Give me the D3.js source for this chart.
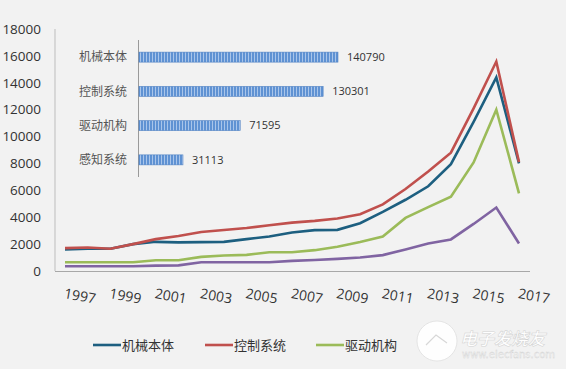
<!DOCTYPE html>
<html>
<head>
<meta charset="UTF-8">
<title>机器人专利趋势</title>
<script src="https://d3js.org/d3.v7.min.js"></script>
<style>
  html, body { margin: 0; padding: 0; background: #f2f2f2; }
  svg { display: block; }
  .tick-y { font-family: "Open Sans", "Noto Sans", sans-serif; font-size: 13.5px; fill: #333; }
  .tick-x { font-family: "Open Sans", "Noto Sans", sans-serif; font-size: 14px; fill: #333; }
  .cjk { font-family: "Noto Sans CJK SC", sans-serif; fill: #444; }
</style>
</head>
<body>
<svg id="chart" width="566" height="369"></svg>
<script>
// 年份
const years = d3.range(1997, 2018);
const yearLabels = [1997, 1999, 2001, 2003, 2005, 2007, 2009, 2011, 2013, 2015, 2017];

// 各系列数据
const jixie = [1600, 1650, 1650, 2000, 2170, 2130, 2150, 2170, 2370, 2570, 2870, 3040, 3060, 3550, 4400, 5300, 6300, 7950, 11100, 14400, 8000];
const kongzhi = [1700, 1750, 1650, 2000, 2370, 2600, 2900, 3050, 3200, 3400, 3600, 3730, 3900, 4220, 4960, 6100, 7400, 8800, 12100, 15580, 8100];
const qudong = [650, 650, 650, 650, 800, 800, 1050, 1150, 1200, 1400, 1400, 1550, 1800, 2150, 2570, 3950, 4750, 5530, 8070, 12000, 5780];
const ganzhi = [350, 350, 350, 350, 400, 420, 650, 650, 650, 650, 750, 820, 900, 1000, 1180, 1600, 2050, 2350, 3500, 4720, 2050];

const seriesNames = ["机械本体", "控制系统", "驱动机构", "感知系统"];
const seriesColors = ["#1d5f80", "#c0504d", "#9bbb59", "#8064a2"];
const yTicks = d3.range(0, 18001, 2000);

// 小图：总量
const barCats = ["机械本体", "控制系统", "驱动机构", "感知系统"];
const barVals = [140790, 130301, 71595, 31113];

const svg = d3.select("#chart");

// 坐标
const x = d3.scalePoint().domain(years).range([65, 519]);
const y = d3.scaleLinear().domain([0, 18000]).range([271, 29]);

// 轴线
svg.append("line").attr("x1", 55).attr("x2", 55).attr("y1", 29).attr("y2", 271)
  .attr("stroke", "#bdbdbd").attr("stroke-width", 1);
svg.append("line").attr("x1", 55).attr("x2", 530).attr("y1", 271.5).attr("y2", 271.5)
  .attr("stroke", "#a8a8a8").attr("stroke-width", 1);

// y 轴刻度
svg.selectAll(".tick-y").data(yTicks).enter().append("text")
  .attr("class", "tick-y")
  .attr("x", 41).attr("y", d => y(d)).attr("dy", "0.35em")
  .attr("text-anchor", "end")
  .text(d => d);

// x 轴标签（略微倾斜）
svg.selectAll(".tick-x").data(yearLabels).enter().append("text")
  .attr("class", "tick-x")
  .attr("text-anchor", "middle")
  .attr("transform", d => `translate(${x(d) + 15},${296}) rotate(10)`)
  .attr("dy", "0.35em")
  .text(d => d);

// 折线
const allSeries = [jixie, kongzhi, qudong, ganzhi];
const line = d3.line().x((d, i) => x(years[i])).y(d => y(d));
// 先画下层再画上层
[3, 2, 0, 1].forEach(k => {
  svg.append("path")
    .datum(allSeries[k])
    .attr("d", line)
    .attr("fill", "none")
    .attr("stroke", seriesColors[k])
    .attr("stroke-width", 2.6)
    .attr("stroke-linejoin", "miter");
});

// 图例（前三项）
const legendX = [93, 205, 316];
seriesNames.slice(0, 3).forEach((name, i) => {
  svg.append("line")
    .attr("x1", legendX[i]).attr("x2", legendX[i] + 28)
    .attr("y1", 345).attr("y2", 345)
    .attr("stroke", seriesColors[i]).attr("stroke-width", 2.6);
  svg.append("text")
    .attr("class", "cjk")
    .attr("x", legendX[i] + 29).attr("y", 345).attr("dy", "0.36em")
    .style("font-size", "13px").style("fill", "#333")
    .text(name);
});

// 嵌入条形图
const defs = svg.append("defs");
const pat = defs.append("pattern").attr("id", "stripe")
  .attr("patternUnits", "userSpaceOnUse").attr("width", 3).attr("height", 10);
pat.append("rect").attr("width", 3).attr("height", 10).attr("fill", "#5f92d3");
pat.append("rect").attr("x", 2).attr("width", 1).attr("height", 10).attr("fill", "#a9c5ea");

const by = d3.scaleBand().domain(barCats).range([40, 177]);
const bx = d3.scaleLinear().domain([0, 150000]).range([139, 351]);

svg.append("line").attr("x1", 138.5).attr("x2", 138.5).attr("y1", 40).attr("y2", 177)
  .attr("stroke", "#9a9a9a").attr("stroke-width", 1);

const bh = 10;
svg.selectAll(".bar").data(barVals).enter().append("rect")
  .attr("class", "bar")
  .attr("x", bx(0))
  .attr("y", (d, i) => by(barCats[i]) + by.bandwidth() / 2 - bh / 2)
  .attr("width", d => bx(d) - bx(0))
  .attr("height", bh)
  .attr("fill", "url(#stripe)")
  .attr("stroke", "#5283c4").attr("stroke-width", 0.6);

svg.selectAll(".bar-val").data(barVals).enter().append("text")
  .attr("class", "bar-val")
  .attr("x", d => bx(d) + 9)
  .attr("y", (d, i) => by(barCats[i]) + by.bandwidth() / 2)
  .attr("dy", "0.35em")
  .style("font-family", "'Open Sans', 'Noto Sans', sans-serif")
  .style("font-size", "11px").style("fill", "#333")
  .text(d => d);

svg.selectAll(".bar-cat").data(barCats).enter().append("text")
  .attr("class", "cjk")
  .attr("x", 127)
  .attr("y", d => by(d) + by.bandwidth() / 2)
  .attr("dy", "0.36em")
  .attr("text-anchor", "end")
  .style("font-size", "12px").style("fill", "#555")
  .text(d => d);

// 水印
const wm = svg.append("g").attr("opacity", 0.95);
wm.append("circle").attr("cx", 437).attr("cy", 341).attr("r", 20)
  .attr("fill", "#ffffff").attr("stroke", "#dedede").attr("stroke-width", 0.8);
wm.append("path").attr("d", "M426,345 L436,335 L447,343")
  .attr("fill", "none").attr("stroke", "#d6d6d6").attr("stroke-width", 1.2);
wm.append("text").attr("x", 460).attr("y", 339).attr("dy", "0.35em")
  .style("font-family", "'Noto Sans CJK SC', sans-serif").style("font-size", "17px")
  .style("font-style", "italic").style("font-weight", "bold")
  .attr("fill", "#ffffff").attr("stroke", "#d0d0d0").attr("stroke-width", 0.5)
  .text("电子发烧友");
wm.append("text").attr("x", 462).attr("y", 354).attr("dy", "0.35em")
  .style("font-family", "'DejaVu Sans', sans-serif").style("font-size", "10px")
  .attr("fill", "#ffffff").attr("stroke", "#d0d0d0").attr("stroke-width", 0.4)
  .text("www.elecfans.com");
</script>
</body>
</html>
